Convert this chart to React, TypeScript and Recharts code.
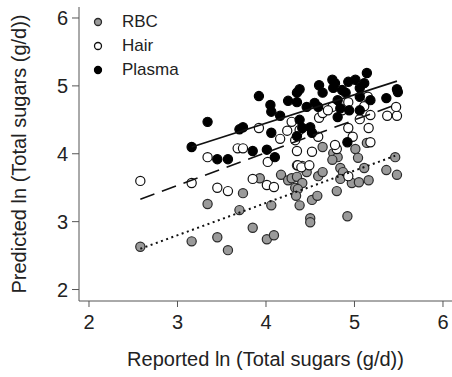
import React from 'react';
import { ScatterChart, Scatter, XAxis, YAxis, Legend, Label } from 'recharts';

const FONT = '"Liberation Sans", Arial, Helvetica, sans-serif';

// Tick labels
const xTicks = [2, 3, 4, 5, 6];
const yTicks = [2, 3, 4, 5, 6];

// Series names
const seriesNames = ['RBC', 'Hair', 'Plasma'];

// RBC points
const rbcReported = [2.58, 3.16, 3.34, 3.45, 3.57, 3.70, 3.74, 3.85, 3.93, 4.01, 4.09, 4.06, 4.17, 4.25, 4.35, 4.41, 4.46, 4.29, 4.35, 4.41, 4.33, 4.36, 4.34, 4.38, 4.52, 4.58, 4.50, 4.50, 4.59, 4.64, 4.64, 4.76, 4.81, 4.75, 4.84, 4.87, 4.84, 4.80, 4.92, 4.97, 5.05, 5.16, 5.01, 5.04, 5.11, 5.14, 5.36, 5.48, 5.46];
const rbcPredicted = [2.63, 2.71, 3.26, 2.77, 2.58, 3.17, 3.42, 2.91, 3.64, 2.74, 2.80, 3.24, 3.69, 3.61, 3.83, 3.82, 3.73, 3.64, 3.66, 3.57, 3.50, 3.48, 3.38, 3.24, 3.32, 3.38, 3.05, 2.99, 3.67, 3.73, 4.10, 4.01, 3.95, 3.91, 3.79, 3.73, 3.63, 3.45, 3.08, 3.57, 3.58, 3.61, 4.07, 3.94, 3.79, 4.16, 3.76, 3.69, 3.95];

// Hair points
const hairReported = [2.58, 3.16, 3.34, 3.45, 3.57, 3.68, 3.74, 3.85, 3.92, 4.02, 4.01, 4.09, 4.16, 4.24, 4.35, 4.36, 4.40, 4.49, 4.52, 4.80, 4.93, 4.29, 4.38, 4.33, 4.59, 4.60, 4.64, 4.75, 4.86, 4.93, 5.11, 5.15, 4.93, 5.06, 5.16, 4.98, 5.37, 5.48, 5.47, 5.18, 4.78, 5.18, 4.70];
const hairPredicted = [3.60, 3.57, 3.95, 3.50, 3.45, 4.08, 4.08, 3.63, 4.38, 3.88, 3.54, 3.51, 4.22, 4.34, 4.04, 3.83, 3.80, 3.83, 4.03, 4.07, 3.67, 4.47, 4.35, 4.20, 4.25, 4.53, 4.60, 4.69, 4.64, 4.76, 4.70, 4.84, 4.38, 4.51, 4.38, 4.25, 4.56, 4.56, 4.69, 4.57, 4.13, 4.17, 4.64];

// Plasma points
const plasmaReported = [3.16, 3.34, 3.45, 3.57, 3.70, 3.74, 3.85, 3.92, 4.01, 4.05, 4.06, 4.06, 4.10, 4.16, 4.25, 4.35, 4.38, 4.35, 4.38, 4.41, 4.50, 4.52, 4.35, 4.46, 4.55, 4.60, 4.64, 4.59, 4.75, 4.78, 4.76, 4.86, 4.81, 4.84, 4.81, 4.93, 5.01, 4.94, 4.92, 5.06, 5.06, 5.06, 5.11, 5.14, 5.18, 5.36, 5.48, 4.90, 5.49];
const plasmaPredicted = [4.10, 4.47, 3.92, 3.92, 4.36, 4.39, 4.04, 4.85, 4.06, 4.72, 4.62, 4.31, 3.95, 4.56, 4.78, 4.90, 4.95, 4.76, 4.50, 4.38, 4.39, 4.31, 4.26, 4.69, 4.75, 5.01, 4.90, 4.69, 5.09, 5.04, 4.97, 4.94, 4.79, 4.67, 4.54, 5.06, 5.09, 4.64, 4.17, 4.97, 4.84, 4.64, 5.04, 5.19, 4.79, 4.82, 4.95, 4.90, 4.91];

// Fitted line end points
const rbcFitX = [2.58, 5.46];
const rbcFitY = [2.60, 3.97];
const hairFitX = [2.58, 5.48];
const hairFitY = [3.33, 4.73];
const plasmaFitX = [3.16, 5.48];
const plasmaFitY = [4.10, 5.07];

const toPoints = (xs: number[], ys: number[]) => xs.map((x, i) => ({ x, y: ys[i] }));

const rbcData = toPoints(rbcReported, rbcPredicted);
const hairData = toPoints(hairReported, hairPredicted);
const plasmaData = toPoints(plasmaReported, plasmaPredicted);
const rbcFit = toPoints(rbcFitX, rbcFitY);
const hairFit = toPoints(hairFitX, hairFitY);
const plasmaFit = toPoints(plasmaFitX, plasmaFitY);

const STYLES: Record<string, { fill: string; stroke: string }> = {
  RBC: { fill: '#9a9a9a', stroke: '#2a2a2a' },
  Hair: { fill: '#ffffff', stroke: '#111111' },
  Plasma: { fill: '#000000', stroke: '#000000' },
};

const makeDot = (fill: string, stroke: string) => (props: any) => {
  const { cx, cy } = props;
  if (cx == null || cy == null) return <g />;
  return <circle cx={cx} cy={cy} r={4.6} fill={fill} stroke={stroke} strokeWidth={1.2} />;
};

const noDot = () => <g />;

function LegendBox() {
  return (
    <div style={{ fontFamily: FONT, fontSize: 17, color: '#222' }}>
      {seriesNames.map((name) => (
        <div key={name} style={{ display: 'flex', alignItems: 'center', height: 24 }}>
          <svg width={16} height={16} style={{ display: 'block' }}>
            <circle cx={8} cy={8} r={3.5} fill={STYLES[name].fill} stroke={STYLES[name].stroke} strokeWidth={1.3} />
          </svg>
          <span style={{ marginLeft: 16, lineHeight: '24px' }}>{name}</span>
        </div>
      ))}
    </div>
  );
}

const axisText = { fill: '#222', fontSize: 20, fontFamily: FONT };

export default function App() {
  return (
    <div style={{ position: 'absolute', left: 0, top: 0, width: 452, height: 377, background: '#fff' }}>
      <ScatterChart width={452} height={377} margin={{ top: 7, right: 0, bottom: 0, left: 0 }}>
        <XAxis
          type="number"
          dataKey="x"
          domain={[1.887, 6.102]}
          allowDataOverflow
          ticks={xTicks}
          interval={0}
          height={76}
          tickSize={6}
          tickMargin={8}
          axisLine={{ stroke: '#555', strokeWidth: 1 }}
          tickLine={{ stroke: '#555', strokeWidth: 1 }}
          tick={axisText}
        >
          <Label value="Reported ln (Total sugars (g/d))" position="insideBottom" offset={11} style={axisText} />
        </XAxis>
        <YAxis
          type="number"
          dataKey="y"
          domain={[1.831, 6.162]}
          allowDataOverflow
          ticks={yTicks}
          interval={0}
          width={79}
          tickSize={7}
          tickMargin={4}
          axisLine={{ stroke: '#555', strokeWidth: 1 }}
          tickLine={{ stroke: '#555', strokeWidth: 1 }}
          tick={axisText}
        >
          <Label
            value="Predicted ln (Total sugars (g/d))"
            angle={-90}
            position="insideLeft"
            offset={19}
            style={{ ...axisText, textAnchor: 'middle' }}
          />
        </YAxis>
        <Legend
          layout="horizontal"
          verticalAlign="middle"
          align="center"
          content={() => <LegendBox />}
          wrapperStyle={{ left: 90, top: 9.5, width: 'auto', height: 'auto' }}
        />
        <Scatter name="RBC" data={rbcData} isAnimationActive={false} shape={makeDot(STYLES.RBC.fill, STYLES.RBC.stroke)} />
        <Scatter name="Hair" data={hairData} isAnimationActive={false} shape={makeDot(STYLES.Hair.fill, STYLES.Hair.stroke)} />
        <Scatter name="Plasma" data={plasmaData} isAnimationActive={false} shape={makeDot(STYLES.Plasma.fill, STYLES.Plasma.stroke)} />
        <Scatter
          name="RBC fit"
          data={rbcFit}
          isAnimationActive={false}
          shape={noDot}
          legendType="none"
          line={{ stroke: '#111', strokeWidth: 2, strokeDasharray: '2 3.5' }}
          lineType="joint"
        />
        <Scatter
          name="Hair fit"
          data={hairFit}
          isAnimationActive={false}
          shape={noDot}
          legendType="none"
          line={{ stroke: '#111', strokeWidth: 1.6, strokeDasharray: '15 8' }}
          lineType="joint"
        />
        <Scatter
          name="Plasma fit"
          data={plasmaFit}
          isAnimationActive={false}
          shape={noDot}
          legendType="none"
          line={{ stroke: '#111', strokeWidth: 1.6 }}
          lineType="joint"
        />
      </ScatterChart>
    </div>
  );
}
